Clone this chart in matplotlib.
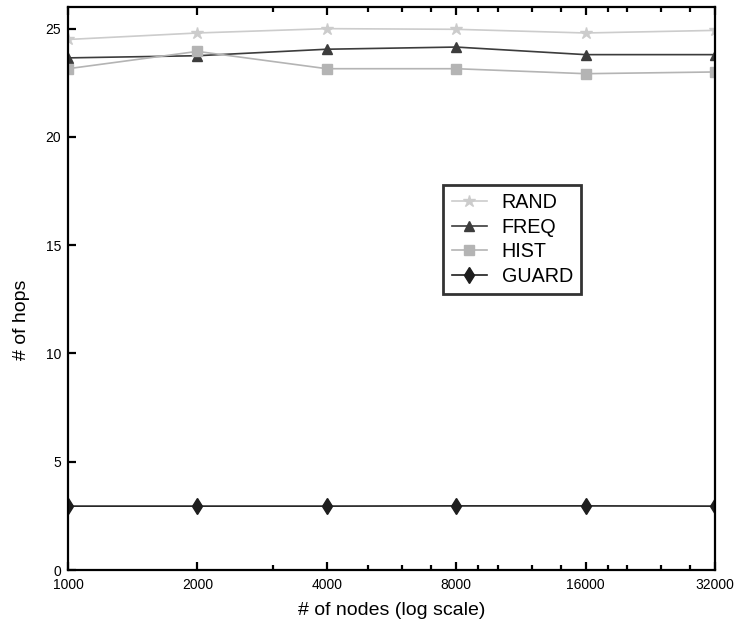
import matplotlib
matplotlib.use("Agg")
import matplotlib.pyplot as plt
from matplotlib.ticker import FixedLocator, NullFormatter, FixedFormatter

plt.rcParams['font.family'] = ['Liberation Sans', 'DejaVu Sans']

nodes = [1000, 2000, 4000, 8000, 16000, 32000]
node_labels = ['1000', '2000', '4000', '8000', '16000', '32000']
minor_nodes = [3000, 5000, 6000, 7000, 9000, 10000, 12000, 14000,
               18000, 20000, 24000, 28000]

rand_hops = [24.5, 24.8, 25.0, 24.97, 24.8, 24.92]
freq_hops = [23.65, 23.75, 24.05, 24.15, 23.8, 23.8]
hist_hops = [23.15, 23.95, 23.15, 23.15, 22.92, 23.0]
guard_hops = [2.95, 2.95, 2.95, 2.96, 2.96, 2.95]

y_ticks = [0, 5, 10, 15, 20, 25]

fig = plt.figure(figsize=(7.38, 6.32), dpi=100)
ax = fig.add_axes([68 / 738, 1 - 570 / 632, 647 / 738, 563 / 632])

ax.plot(nodes, rand_hops, color='#cccccc', marker='*', markersize=9,
        linewidth=1.2, label='RAND')
ax.plot(nodes, freq_hops, color='#3c3c3c', marker='^', markersize=7,
        linewidth=1.2, label='FREQ')
ax.plot(nodes, hist_hops, color='#b4b4b4', marker='s', markersize=7,
        linewidth=1.2, label='HIST')
ax.plot(nodes, guard_hops, color='#1e1e1e', marker='d', markersize=8,
        linewidth=1.2, label='GUARD')

ax.set_xscale('log')
ax.set_xlim(1000, 32000)
ax.set_ylim(0, 26)
ax.xaxis.set_major_locator(FixedLocator(nodes))
ax.xaxis.set_major_formatter(FixedFormatter(node_labels))
ax.xaxis.set_minor_locator(FixedLocator(minor_nodes))
ax.xaxis.set_minor_formatter(NullFormatter())
ax.set_yticks(y_ticks)

for side in ax.spines.values():
    side.set_linewidth(1.6)

ax.tick_params(axis='x', which='major', direction='in', length=6, width=1.6,
               top=True, bottom=True, labelsize=10, pad=6)
ax.tick_params(axis='x', which='minor', direction='in', length=3.5, width=1.6,
               top=True, bottom=True)
ax.tick_params(axis='y', which='major', direction='in', length=6, width=1.6,
               left=True, right=False, labelsize=10, pad=5)

ax.set_xlabel('# of nodes (log scale)', fontsize=14, labelpad=7)
ax.set_ylabel('# of hops', fontsize=14)
ax.yaxis.set_label_coords(-0.058, 0.444)

leg = ax.legend(loc='upper left', bbox_to_anchor=(0.58, 0.684), fontsize=14.2,
                frameon=True, fancybox=False, edgecolor='black',
                handlelength=1.8, handletextpad=0.75, borderpad=0.42,
                labelspacing=0.28, borderaxespad=0)
leg.get_frame().set_linewidth(2.0)

fig.savefig('out.png', dpi=100, facecolor='white')
